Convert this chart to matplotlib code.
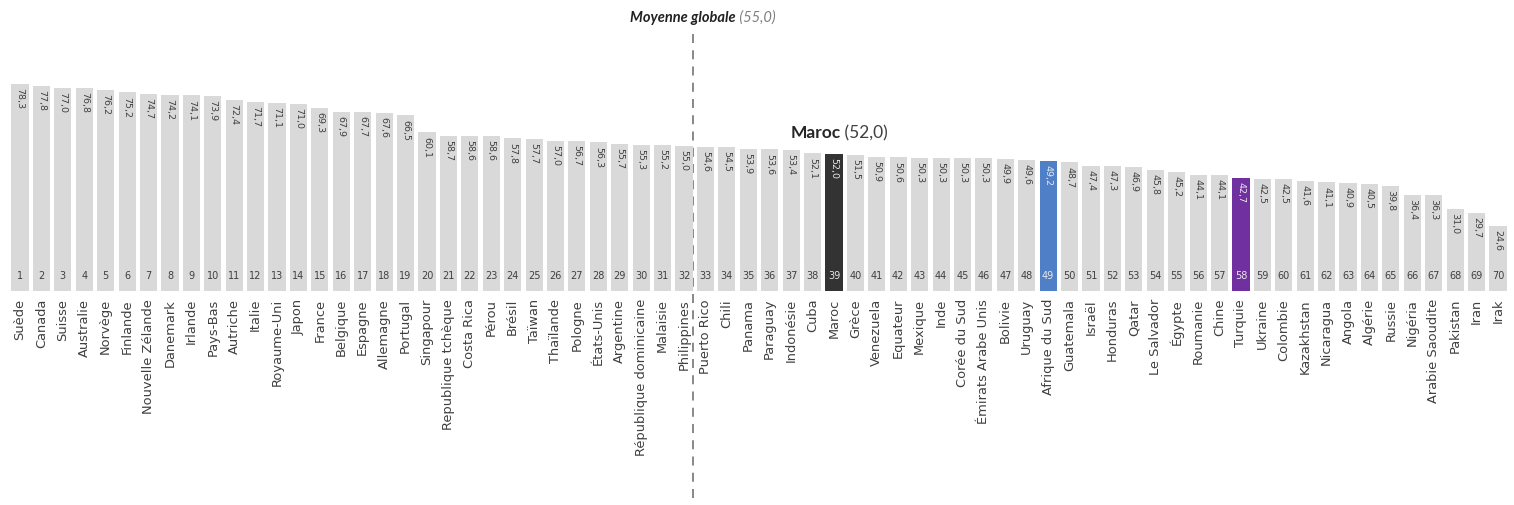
import matplotlib
matplotlib.use("Agg")
import matplotlib.pyplot as plt
import numpy as np

countries = [
    "Suède", "Canada", "Suisse", "Australie", "Norvège", "Finlande",
    "Nouvelle Zélande", "Danemark", "Irlande", "Pays-Bas", "Autriche", "Italie",
    "Royaume-Uni", "Japon", "France", "Belgique", "Espagne", "Allemagne",
    "Portugal", "Singapour", "Republique tchèque", "Costa Rica", "Pérou", "Brésil",
    "Taïwan", "Thaïlande", "Pologne", "États-Unis", "Argentine",
    "République dominicaine", "Malaisie", "Philippines", "Puerto Rico", "Chili",
    "Panama", "Paraguay", "Indonésie", "Cuba", "Maroc", "Grèce", "Venezuela",
    "Equateur", "Mexique", "Inde", "Corée du Sud", "Émirats Arabe Unis",
    "Bolivie", "Uruguay", "Afrique du Sud", "Guatemala", "Israël", "Honduras",
    "Qatar", "Le Salvador", "Égypte", "Roumanie", "Chine", "Turquie", "Ukraine",
    "Colombie", "Kazakhstan", "Nicaragua", "Angola", "Algérie", "Russie",
    "Nigéria", "Arabie Saoudite", "Pakistan", "Iran", "Irak",
]

scores = [
    78.3, 77.8, 77.0, 76.8, 76.2, 75.2, 74.7, 74.2, 74.1, 73.9, 72.4, 71.7,
    71.1, 71.0, 69.3, 67.9, 67.7, 67.6, 66.5, 60.1, 58.7, 58.6, 58.6, 57.8,
    57.7, 57.0, 56.7, 56.3, 55.7, 55.3, 55.2, 55.0, 54.6, 54.5, 53.9, 53.6,
    53.4, 52.1, 52.0, 51.5, 50.9, 50.6, 50.3, 50.3, 50.3, 50.3, 49.9, 49.6,
    49.2, 48.7, 47.4, 47.3, 46.9, 45.8, 45.2, 44.1, 44.1, 42.7, 42.5, 42.5,
    41.6, 41.1, 40.9, 40.5, 39.8, 36.4, 36.3, 31.0, 29.7, 24.6,
]

global_mean = 55.0
highlight = {"Maroc": "#333333", "Afrique du Sud": "#4f7fc6", "Turquie": "#7030a0"}

def fr(v):
    return f"{v:.1f}".replace(".", ",")

W, H = 1514, 506
fig = plt.figure(figsize=(W / 100, H / 100), dpi=100)
ax = fig.add_axes([8 / W, (H - 292) / H, (1510 - 8) / W, 282 / H])

x = np.arange(len(countries))
colors = [highlight.get(c, "#d9d9d9") for c in countries]
ax.bar(x, scores, width=0.8, color=colors, edgecolor="none", zorder=2)

ax.set_xlim(-0.56, len(countries) - 0.44)
ax.set_ylim(0, 282 / 2.64)

for i, (c, v) in enumerate(zip(countries, scores)):
    hl = c in highlight
    tc = "#e8e8e8" if hl else "#404040"
    ax.text(i, v - 1.2, fr(v), rotation=270, ha="center", va="top",
            fontsize=6.8, color=tc, zorder=3)
    ax.text(i, 6.0, str(i + 1), ha="center", va="center",
            fontsize=7, color=tc, zorder=3)

ax.set_xticks(x)
ax.set_xticklabels(countries, rotation=90, fontsize=9.4, color="#404040",
                   family="DejaVu Sans")
ax.tick_params(axis="x", length=0, pad=5)
ax.set_yticks([])
for s in ["top", "right", "left", "bottom"]:
    ax.spines[s].set_visible(False)

# global mean reference line
mean_pos = countries.index("Philippines") + 0.42
ax.plot([mean_pos, mean_pos], [97.5, -79], ls=(0, (5, 4)), color="#7f7f7f",
        lw=1.3, clip_on=False, zorder=1)
t1 = ax.text(33.43, 103.8, "Moyenne globale", ha="right", va="center",
             fontsize=10.5, fontweight="bold", fontstyle="italic",
             family="Lato", color="#222222")
ax.annotate(" (" + fr(global_mean) + ")", xy=(1, 0), xycoords=t1,
            ha="left", va="bottom", fontsize=10.5, fontstyle="italic",
            family="Lato", color="#7f7f7f")

# highlighted country label
m = countries.index("Maroc")
t2 = ax.text(38.3, 60.2, "Maroc", ha="right", va="center", fontsize=12.5,
             fontweight="bold", family="Lato", color="#262626")
ax.annotate(" (" + fr(scores[m]) + ")", xy=(1, 0), xycoords=t2,
            ha="left", va="bottom", fontsize=12.5, family="Lato", color="#404040")

fig.savefig("out.png", dpi=100, facecolor="white")
